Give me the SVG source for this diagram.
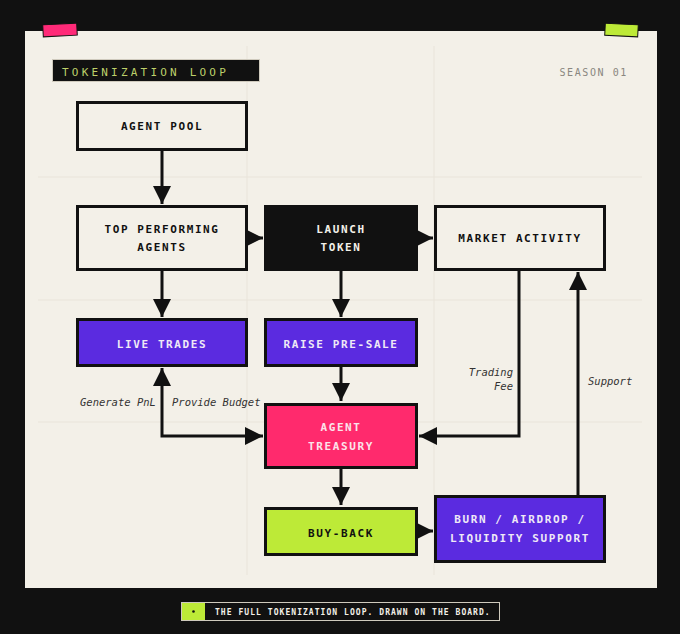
<svg xmlns="http://www.w3.org/2000/svg" width="680" height="634" viewBox="0 0 680 634">
<defs>
<style>
.n{stroke:#111;stroke-width:3}
.t{font-family:"DejaVu Sans Mono","Liberation Mono",monospace;font-size:11px;font-weight:bold;letter-spacing:1.6px;text-anchor:middle}
.dk{fill:#111}
.lt{fill:#efe9f6}
.lbl{font-family:"DejaVu Sans Mono","Liberation Mono",monospace;font-size:10.5px;font-style:italic;fill:#333}
.c{fill:none;stroke:#111;stroke-width:3}
.g{stroke:#e9e4da;stroke-width:1;fill:none}
</style>
<marker id="ah" viewBox="0 0 10 10" refX="10" refY="5" markerWidth="6" markerHeight="6" markerUnits="strokeWidth" orient="auto-start-reverse">
<path d="M0,0 L10,5 L0,10 Z" fill="#111"/>
</marker>
</defs>
<rect width="680" height="634" fill="#111"/>
<rect x="25" y="31" width="632" height="557" fill="#f3f0e8"/>
<g class="g">
<line x1="38" y1="177" x2="642" y2="177"/>
<line x1="38" y1="300" x2="642" y2="300"/>
<line x1="38" y1="422" x2="642" y2="422"/>
<line x1="247" y1="46" x2="247" y2="575"/>
<line x1="434" y1="46" x2="434" y2="575"/>
</g>
<rect x="43" y="24" width="34" height="12" fill="#ff2a78" stroke="#111" stroke-width="1" transform="rotate(-3 60 30)"/>
<rect x="605" y="24" width="33" height="12" fill="#bdea37" stroke="#111" stroke-width="1" transform="rotate(3 621 30)"/>
<rect x="52.5" y="59.5" width="207" height="22" fill="#111" stroke="#cfcabd" stroke-width="1"/>
<text x="62" y="75.5" font-family="DejaVu Sans Mono,monospace" font-size="11" letter-spacing="3.2" fill="#bdd06a">TOKENIZATION LOOP</text>
<text x="628" y="75.5" font-family="DejaVu Sans Mono,monospace" font-size="10" letter-spacing="1.6" fill="#8a8780" text-anchor="end">SEASON 01</text>

<g id="connectors">
<line class="c" x1="162" y1="149" x2="162" y2="204" marker-end="url(#ah)"/>
<line class="c" x1="248" y1="238" x2="263" y2="238" marker-end="url(#ah)"/>
<line class="c" x1="418" y1="238" x2="433" y2="238" marker-end="url(#ah)"/>
<line class="c" x1="162" y1="270" x2="162" y2="317" marker-end="url(#ah)"/>
<line class="c" x1="341" y1="270" x2="341" y2="317" marker-end="url(#ah)"/>
<line class="c" x1="341" y1="366" x2="341" y2="401" marker-end="url(#ah)"/>
<polyline class="c" points="162,368 162,436 263,436" marker-start="url(#ah)" marker-end="url(#ah)"/>
<polyline class="c" points="519,270 519,436 419,436" marker-end="url(#ah)"/>
<line class="c" x1="341" y1="468" x2="341" y2="505" marker-end="url(#ah)"/>
<line class="c" x1="418" y1="531" x2="433" y2="531" marker-end="url(#ah)"/>
<line class="c" x1="578" y1="495" x2="578" y2="272" marker-end="url(#ah)"/>
<text class="lbl" x="80" y="406">Generate PnL</text>
<text class="lbl" x="172" y="406">Provide Budget</text>
<text class="lbl" x="513" y="376" text-anchor="end">Trading</text>
<text class="lbl" x="513" y="390" text-anchor="end">Fee</text>
<text class="lbl" x="588" y="385">Support</text>
</g>

<g id="agent-pool">
<rect class="n" x="77.5" y="102.5" width="169" height="47" fill="#f3f0e8"/>
<text class="t dk" x="162" y="130">AGENT POOL</text>
</g>
<g id="top-performing-agents">
<rect class="n" x="77.5" y="206.5" width="169" height="63" fill="#f3f0e8"/>
<text class="t dk" x="162" y="233">TOP PERFORMING</text>
<text class="t dk" x="162" y="251">AGENTS</text>
</g>
<g id="launch-token">
<rect class="n" x="265.5" y="206.5" width="151" height="63" fill="#111"/>
<text class="t" fill="#f3f0e8" x="341" y="233">LAUNCH</text>
<text class="t" fill="#f3f0e8" x="341" y="251">TOKEN</text>
</g>
<g id="market-activity">
<rect class="n" x="435.5" y="206.5" width="169" height="63" fill="#f3f0e8"/>
<text class="t dk" x="520" y="242">MARKET ACTIVITY</text>
</g>
<g id="live-trades">
<rect class="n" x="77.5" y="319.5" width="169" height="46" fill="#5b2be0"/>
<text class="t lt" x="162" y="348">LIVE TRADES</text>
</g>
<g id="raise-pre-sale">
<rect class="n" x="265.5" y="319.5" width="151" height="46" fill="#5b2be0"/>
<text class="t lt" x="341" y="348">RAISE PRE-SALE</text>
</g>
<g id="agent-treasury">
<rect class="n" x="265.5" y="404.5" width="151" height="63" fill="#ff2a6d"/>
<text class="t" fill="#fbe3ea" x="341" y="431">AGENT</text>
<text class="t" fill="#fbe3ea" x="341" y="450">TREASURY</text>
</g>
<g id="buy-back">
<rect class="n" x="265.5" y="508.5" width="151" height="46" fill="#bdea37"/>
<text class="t dk" x="341" y="537">BUY-BACK</text>
</g>
<g id="burn-airdrop">
<rect class="n" x="435.5" y="496.5" width="169" height="65" fill="#5b2be0"/>
<text class="t lt" x="520" y="523">BURN / AIRDROP /</text>
<text class="t lt" x="520" y="542">LIQUIDITY SUPPORT</text>
</g>

<rect x="181.5" y="602.5" width="318" height="18" fill="#111" stroke="#cfcabd" stroke-width="1"/>
<rect x="182" y="603" width="23" height="17" fill="#bdea37"/>
<circle cx="193.5" cy="611.5" r="1.3" fill="#111"/>
<text x="215" y="614.5" font-family="DejaVu Sans Mono,monospace" font-size="8" font-weight="bold" letter-spacing="1.05" fill="#f3f0e8">THE FULL TOKENIZATION LOOP. DRAWN ON THE BOARD.</text>
</svg>
